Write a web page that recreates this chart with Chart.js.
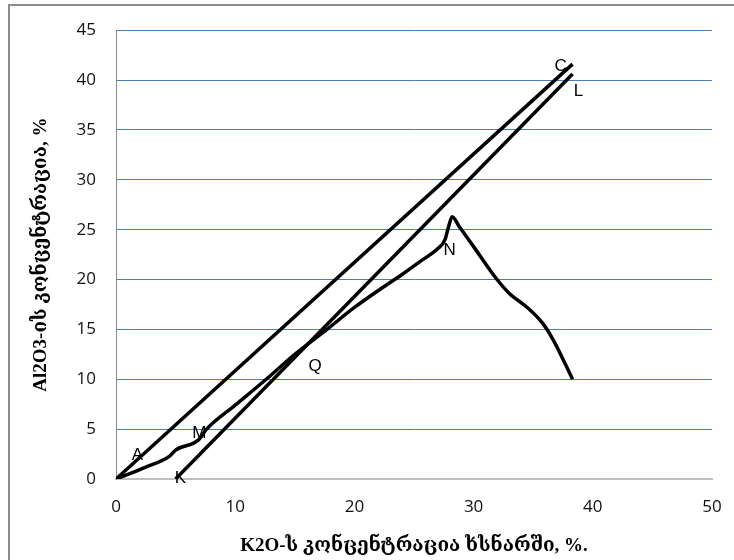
<!DOCTYPE html>
<html>
<head>
<meta charset="utf-8">
<script src="https://cdn.jsdelivr.net/npm/chart.js@4"></script>
<style>
  body { margin: 0; background: #fff; }
  #wrap { position: relative; width: 734px; height: 560px; }
  #frame { position: absolute; left: 8px; top: 4px; right: 0; bottom: 0;
           border-top: 2px solid #8c8c8c; border-left: 2px solid #8c8c8c; pointer-events: none; }
</style>
</head>
<body>
<div id="wrap">
  <canvas id="chart" width="734" height="560"></canvas>
  <div id="frame"></div>
</div>
<script>
// line A-C
const lineCX = [0, 38.3];
const lineCY = [0, 41.6];
// line K-L
const lineLX = [5.0, 38.3];
const lineLY = [0, 40.6];
// curve A-M-Q-N
const curveX = [0, 2.5, 4.5, 5.0, 6.9, 7.6, 10, 12.6, 15, 17.7, 20, 22.5, 24, 25.5, 27, 27.6, 27.9, 28.2, 28.8, 30, 31.9, 33.0, 34.5, 35.8, 36.7, 37.5, 38.3];
const curveY = [0, 1.2, 2.3, 2.9, 3.9, 5.0, 7.4, 10.0, 12.5, 15.0, 17.2, 19.3, 20.5, 21.8, 23.1, 24.0, 25.3, 26.3, 25.3, 23.3, 20.1, 18.6, 17.2, 15.6, 13.9, 12.0, 10.0];

// point letters
const pointLabels = ['A', 'M', 'K', 'Q', 'N', 'C', 'L'];
const labelX = [1.8, 7.0, 5.4, 16.7, 28.0, 37.3, 38.8];
const labelY = [2.4, 4.6, 0.1, 11.3, 22.9, 41.4, 38.9];

const toPts = (xs, ys) => xs.map((x, i) => ({ x: x, y: ys[i] }));

const letters = {
  id: 'letters',
  afterDatasetsDraw(chart) {
    const ctx = chart.ctx;
    const sx = chart.scales.x, sy = chart.scales.y;
    ctx.save();
    ctx.font = '17px "Liberation Sans", Arial, sans-serif';
    ctx.fillStyle = '#000';
    ctx.textAlign = 'center';
    ctx.textBaseline = 'middle';
    pointLabels.forEach((t, i) => {
      ctx.fillText(t, sx.getPixelForValue(labelX[i]), sy.getPixelForValue(labelY[i]));
    });
    ctx.restore();
  }
};

const lineStyle = { borderColor: '#000', borderWidth: 3.5, pointRadius: 0, showLine: true, fill: false };
const titleFont = { family: '"Liberation Serif", "DejaVu Serif", serif', size: 19, weight: 'bold' };
const tickFont = { family: '"Open Sans", "Liberation Sans", sans-serif', size: 17 };

new Chart(document.getElementById('chart').getContext('2d'), {
  type: 'scatter',
  data: {
    datasets: [
      { ...lineStyle, data: toPts(lineCX, lineCY), tension: 0 },
      { ...lineStyle, data: toPts(lineLX, lineLY), tension: 0 },
      { ...lineStyle, data: toPts(curveX, curveY), cubicInterpolationMode: 'monotone' }
    ]
  },
  options: {
    responsive: false,
    animation: false,
    layout: { padding: { top: 26, right: 22, left: 0, bottom: 0 } },
    plugins: { legend: { display: false }, tooltip: { enabled: false } },
    scales: {
      x: {
        type: 'linear', min: 0, max: 50,
        ticks: { stepSize: 10, color: '#111', font: tickFont, padding: 18, maxRotation: 0 },
        grid: { display: false, drawTicks: false },
        border: { display: true, color: '#bfbfbf', width: 2 },
        title: { display: true, text: 'K2O-ს კონცენტრაცია ხსნარში, %.', color: '#000', font: titleFont, padding: { top: 0, bottom: 3 } },
        afterFit: s => { s.height = 81; s.paddingLeft = 0; s.paddingRight = 0; }
      },
      y: {
        type: 'linear', min: 0, max: 45,
        ticks: { stepSize: 5, color: '#111', font: tickFont, padding: 20 },
        grid: { color: '#4a7ebb', lineWidth: 1, drawTicks: false },
        border: { display: true, color: '#8c8c8c', width: 1 },
        title: { display: true, text: 'Al2O3-ის კონცენტრაცია, %', color: '#000', font: titleFont, padding: { top: 30, bottom: 0 } },
        afterFit: s => { s.width = 116; }
      }
    }
  },
  plugins: [letters]
});
</script>
</body>
</html>
